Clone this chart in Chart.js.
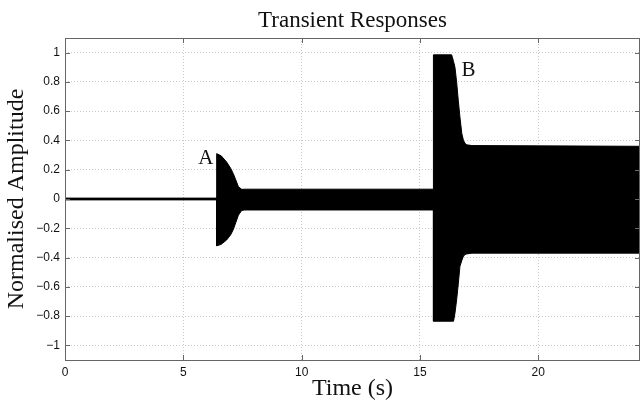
<!DOCTYPE html>
<html lang="en">
<head>
<meta charset="UTF-8">
<title>Transient Responses</title>
<script src="https://cdn.jsdelivr.net/npm/chart.js"></script>
<style>
  body { margin: 0; background: #fff; }
</style>
</head>
<body>
<canvas id="chart" width="640" height="401"></canvas>
<script>
// envelope of the (very dense) oscillation
const timeS = [0, 6.41, 6.41, 6.6, 6.83, 7.0, 7.11, 7.22, 7.33, 7.47, 7.6, 15.57, 15.57, 16.34, 16.42, 16.48, 16.55, 16.62, 16.69, 16.77, 16.84, 16.91, 16.98, 17.2, 24.3];
const upperEnv = [0.006, 0.006, 0.31, 0.295, 0.253, 0.21, 0.174, 0.13, 0.083, 0.066, 0.067, 0.067, 0.985, 0.985, 0.94, 0.9, 0.8, 0.674, 0.56, 0.447, 0.4, 0.379, 0.37, 0.365, 0.36];
const lowerEnv = [-0.006, -0.006, -0.32, -0.31, -0.28, -0.245, -0.21, -0.16, -0.11, -0.078, -0.075, -0.075, -0.835, -0.835, -0.835, -0.78, -0.69, -0.58, -0.46, -0.42, -0.39, -0.38, -0.375, -0.37, -0.37];

const xTicks = [0, 5, 10, 15, 20];
const yTicks = [-1, -0.8, -0.6, -0.4, -0.2, 0, 0.2, 0.4, 0.6, 0.8, 1];

const markLabels = ['A', 'B'];
const markX = [5.95, 17.05];
const markY = [0.28, 0.875];

const chartTitle = 'Transient Responses';

const serif = '"Liberation Serif", "Times New Roman", serif';
const sans = '"Liberation Sans", Arial, sans-serif';

const toPts = arr => arr.map((v, i) => ({ x: timeS[i], y: v }));

// box + inward tick marks (matlab style), title over the plot area, A / B labels
const boxPlugin = {
  id: 'box',
  afterDatasetsDraw(chart) {
    const { ctx, chartArea: a, scales } = chart;
    ctx.save();
    ctx.strokeStyle = '#666';
    ctx.lineWidth = 1;
    ctx.beginPath();
    xTicks.forEach(v => {
      const px = Math.round(scales.x.getPixelForValue(v)) + 0.5;
      ctx.moveTo(px, a.bottom); ctx.lineTo(px, a.bottom - 5);
      ctx.moveTo(px, a.top); ctx.lineTo(px, a.top + 5);
    });
    yTicks.forEach(v => {
      const py = Math.round(scales.y.getPixelForValue(v)) + 0.5;
      ctx.moveTo(a.left, py); ctx.lineTo(a.left + 5, py);
      ctx.moveTo(a.right, py); ctx.lineTo(a.right - 5, py);
    });
    ctx.stroke();
    ctx.strokeRect(a.left + 0.5, a.top + 0.5, a.right - a.left - 1, a.bottom - a.top);

    ctx.fillStyle = '#111';
    ctx.textAlign = 'center';
    ctx.textBaseline = 'alphabetic';
    ctx.font = '23px ' + serif;
    ctx.fillText(chartTitle, (a.left + a.right) / 2, 27);

    ctx.font = '21px ' + serif;
    ctx.textBaseline = 'middle';
    markLabels.forEach((t, i) => {
      ctx.fillText(t, scales.x.getPixelForValue(markX[i]), scales.y.getPixelForValue(markY[i]));
    });
    ctx.restore();
  }
};

new Chart(document.getElementById('chart').getContext('2d'), {
  type: 'line',
  data: {
    datasets: [
      { data: toPts(upperEnv), borderColor: '#000', backgroundColor: '#000', borderWidth: 1, pointRadius: 0, fill: false },
      { data: toPts(lowerEnv), borderColor: '#000', backgroundColor: '#000', borderWidth: 1, pointRadius: 0, fill: '-1' }
    ]
  },
  options: {
    responsive: false,
    animation: false,
    layout: { padding: { top: 38, left: 0, right: 0, bottom: 0 } },
    plugins: {
      legend: { display: false },
      tooltip: { enabled: false },
      title: { display: false }
    },
    scales: {
      x: {
        type: 'linear',
        min: 0,
        max: 24.3,
        afterBuildTicks: s => { s.ticks = xTicks.map(v => ({ value: v })); },
        afterFit: s => { s.height = 41; },
        grid: { color: '#c8c8c8', drawTicks: false },
        border: { display: false, dash: [1, 2] },
        ticks: { color: '#111', padding: 5, maxRotation: 0, font: { family: sans, size: 12 } },
        title: { display: true, text: 'Time (s)', color: '#111', font: { family: serif, size: 24, lineHeight: 1.0 }, padding: { top: 0, bottom: 0 } }
      },
      y: {
        min: -1.1,
        max: 1.1,
        afterBuildTicks: s => { s.ticks = yTicks.map(v => ({ value: v })); },
        afterFit: s => { s.width = 65; },
        grid: { color: '#c8c8c8', drawTicks: false },
        border: { display: false, dash: [1, 2] },
        ticks: {
          color: '#111', padding: 5, font: { family: sans, size: 12 },
          callback: v => (v < 0 ? '\u2212' + String(Math.abs(+v.toFixed(1))) : String(+v.toFixed(1)))
        },
        title: { display: true, text: 'Normalised Amplitude', color: '#111', font: { family: serif, size: 24, lineHeight: 1.0 }, padding: { top: 5, bottom: 0 } }
      }
    }
  },
  plugins: [boxPlugin]
});
</script>
</body>
</html>
